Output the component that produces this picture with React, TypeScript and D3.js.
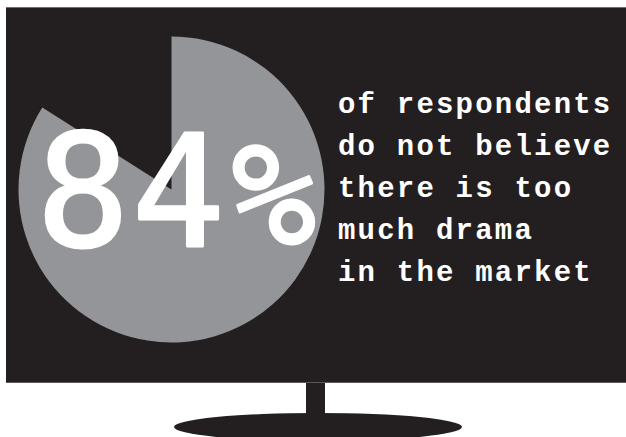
import React from "react";
import * as d3 from "d3";

const shareLabels = ["agree", "rest"];
const shareValues = [84, 16];
const bigLabel = "84%";
const captionLines = [
  "of respondents",
  "do not believe",
  "there is too",
  "much drama",
  "in the market",
];

const W = 626;
const H = 437;
const BLACK = "#231f20";
const GRAY = "#939598";

export default function App() {
  const cx = 171.5;
  const cy = 189.5;
  const r = 153;
  const pie = d3
    .pie<number>()
    .sort(null)
    .value((d) => d)
    .startAngle(0)
    .endAngle(2 * Math.PI);
  const arcs = pie(shareValues);
  const arc = d3.arc<d3.PieArcDatum<number>>().innerRadius(0).outerRadius(r);

  const lineY = d3
    .scaleLinear()
    .domain([0, captionLines.length - 1])
    .range([113, 281]);

  const chars = bigLabel.split("");
  const charX = d3
    .scalePoint<number>()
    .domain(chars.map((_, i) => i))
    .range([83, 274]);

  return (
    <svg
      width={W}
      height={H}
      viewBox={`0 0 ${W} ${H}`}
      style={{ position: "absolute", left: 0, top: 0, display: "block", background: "#fff" }}
    >
      {/* screen */}
      <rect x={6} y={7} width={W - 6} height={376} fill={BLACK} />
      <line x1={6} x2={W} y1={7.5} y2={7.5} stroke="#6d6e71" strokeWidth={1} />
      <line x1={6} x2={W} y1={382.5} y2={382.5} stroke="#58595b" strokeWidth={1} />
      {/* stand */}
      <rect x={306} y={383} width={19} height={36} fill={BLACK} />
      <ellipse cx={318} cy={427} rx={144} ry={14} fill={BLACK} />

      {/* pie */}
      <g transform={`translate(${cx},${cy})`}>
        {arcs.map((a, i) =>
          i === 0 ? (
            <path key={shareLabels[i]} d={arc(a) || ""} fill={GRAY} />
          ) : null
        )}
      </g>

      {/* big number */}
      {chars.map((c, i) => (
        <text
          key={i}
          x={charX(i)}
          y={c === "%" ? 244 : 246}
          textAnchor="middle"
          fill="#fff"
          stroke="#fff"
          strokeWidth={2.8}
          strokeLinejoin="round"
          fontFamily="'DejaVu Sans Mono', monospace"
          fontSize={c === "%" ? 140 : 155}
        >
          {c}
        </text>
      ))}

      {/* caption */}
      {captionLines.map((t, i) => (
        <text
          key={i}
          x={338}
          y={lineY(i)}
          fill="#fff"
          fontFamily="'Liberation Mono', 'Courier New', monospace"
          fontWeight="bold"
          fontSize={29}
          letterSpacing={2.2}
        >
          {t}
        </text>
      ))}
    </svg>
  );
}
